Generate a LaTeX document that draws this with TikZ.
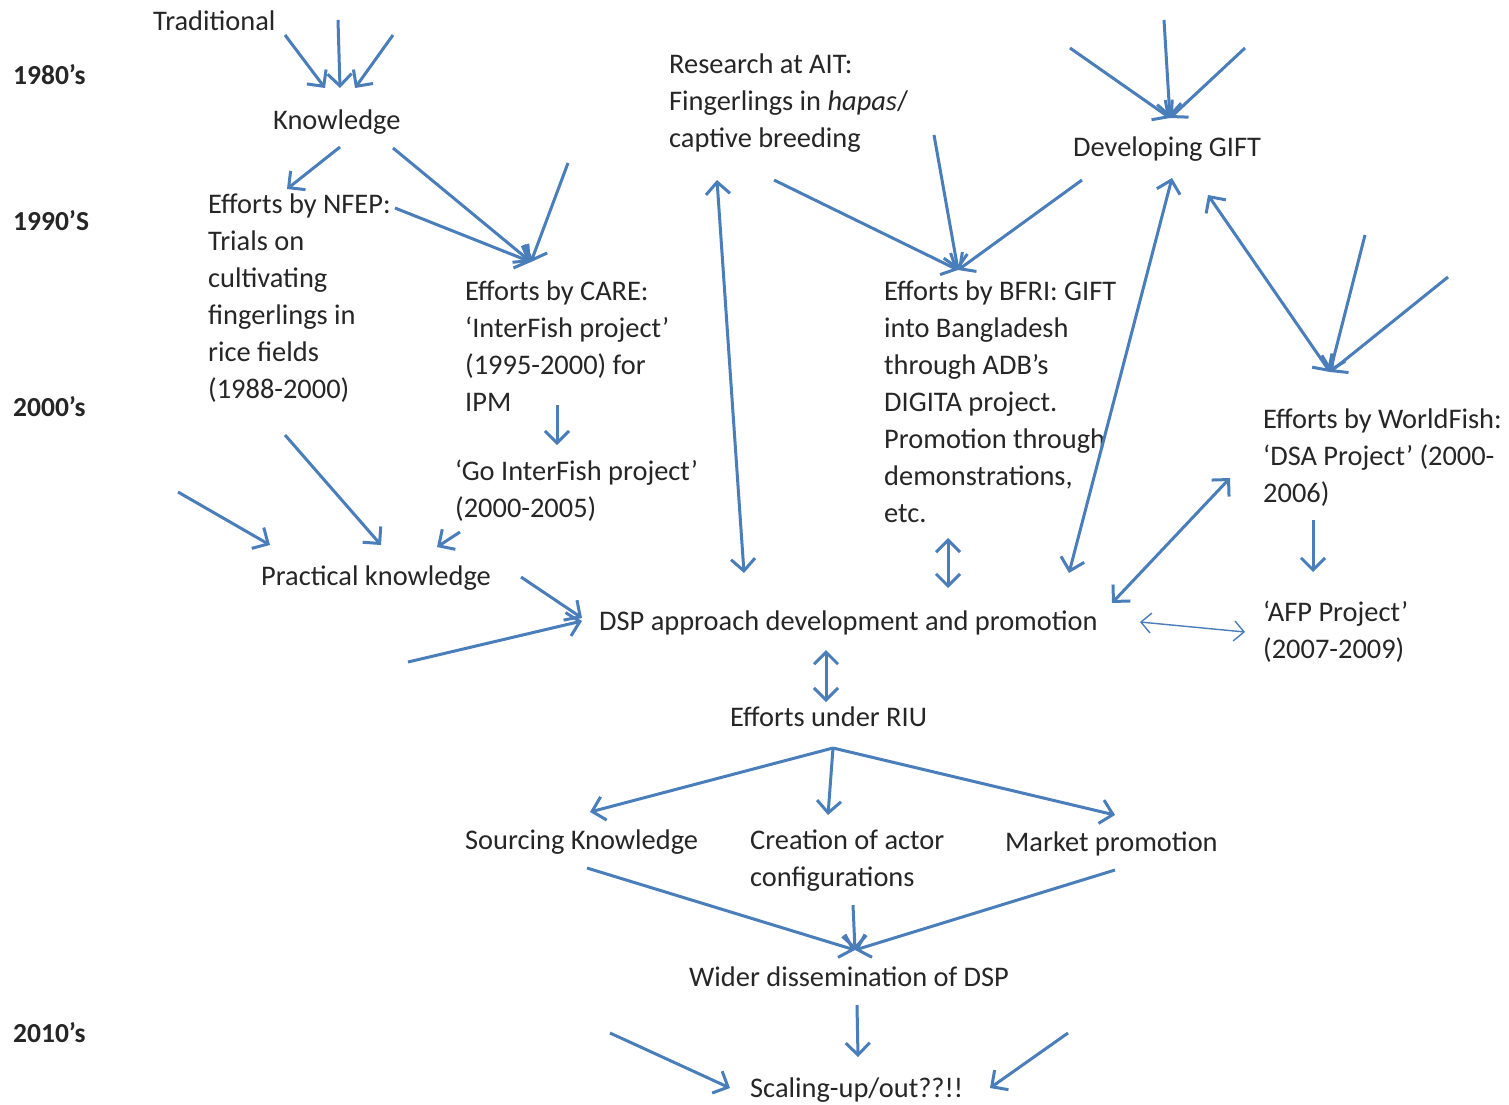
\documentclass[tikz,border=0pt]{standalone}
\usepackage{fontspec}
\setmainfont{Carlito}
\usetikzlibrary{arrows.meta}
\definecolor{arrblue}{RGB}{74,126,187}
\tikzset{
  txt/.style={anchor=base west, inner sep=0pt, font=\fontsize{28.4}{37}\selectfont, text=black!85},
  yr/.style={anchor=base west, inner sep=0pt, font=\fontsize{27.5}{37}\selectfont\bfseries, text=black!85},
  tipw/.style={Straight Barb[length=12pt,width=24pt,line width=3pt]},
  arr/.style={draw=arrblue, line width=3pt, -{Straight Barb[length=12pt,width=24pt,line width=3pt]}},
  darr/.style={draw=arrblue, line width=3pt, {Straight Barb[length=12pt,width=24pt,line width=3pt]}-{Straight Barb[length=12pt,width=24pt,line width=3pt]}},
  tharr/.style={draw=arrblue, line width=1.4pt, {Straight Barb[length=10pt,width=20pt,line width=1.4pt]}-{Straight Barb[length=10pt,width=20pt,line width=1.4pt]}},
}
\newcommand{\ml}[1]{\begin{tabular}[t]{@{}l@{}}#1\end{tabular}}
\begin{document}
\begin{tikzpicture}[x=1pt,y=-1pt]
\useasboundingbox[fill=white] (0,0) rectangle (1509,1104);
% year labels
\node[yr] (y80) at (13,84) {1980’s};
\node[yr] (y90) at (13,230) {1990’S};
\node[yr] (y00) at (13,416) {2000’s};
\node[yr] (y10) at (13,1042) {2010’s};
% text nodes
\node[txt] (trad) at (153,30) {Traditional};
\node[txt] (know) at (273,129) {Knowledge};
\node[txt] (nfep) at (208,213) {\ml{Efforts by NFEP:\\Trials on\\cultivating\\fingerlings in\\rice fields\\(1988-2000)}};
\node[txt] (care) at (465,300) {\ml{Efforts by CARE:\\‘InterFish project’\\(1995-2000) for\\IPM}};
\node[txt] (gointer) at (455,480) {\ml{‘Go InterFish project’\\(2000-2005)}};
\node[txt] (prac) at (261,585) {Practical knowledge};
\node[txt] (ait) at (669,73) {\ml{Research at AIT:\\Fingerlings in \textit{hapas}/\\captive breeding}};
\node[txt] (gift) at (1073,156) {Developing GIFT};
\node[txt] (bfri) at (884,300) {\ml{Efforts by BFRI: GIFT\\into Bangladesh\\through ADB’s\\DIGITA project.\\Promotion through\\demonstrations,\\etc.}};
\node[txt] (wf) at (1263,428) {\ml{Efforts by WorldFish:\\‘DSA Project’ (2000-\\2006)}};
\node[txt] (afp) at (1263,621) {\ml{‘AFP Project’\\(2007-2009)}};
\node[txt] (dsp) at (599,630) {DSP approach development and promotion};
\node[txt] (riu) at (730,726) {Efforts under RIU};
\node[txt] (src) at (465,849) {Sourcing Knowledge};
\node[txt] (crea) at (750,849) {\ml{Creation of actor\\configurations}};
\node[txt] (mkt) at (1005,851) {Market promotion};
\node[txt] (wider) at (689,986) {Wider dissemination of DSP};
\node[txt] (scal) at (750,1097) {Scaling-up/out??!!};
% free ends
\coordinate (c1) at (568,163);
\coordinate (c2) at (178,492);
\coordinate (c3) at (408,662);
\coordinate (c4) at (934,135);
\coordinate (c5) at (1070,48);
\coordinate (c6) at (1164,20);
\coordinate (c7) at (1245,48);
\coordinate (c8) at (1365,235);
\coordinate (c9) at (1448,277);
\coordinate (c10) at (610,1033);
\coordinate (c11) at (1068,1033);
\coordinate (c12) at (338,20);
\coordinate (c13) at (393,35);
% connectors
\draw[arr] ([shift={(132,5)}]trad.base west) -- ([shift={(52,-41)}]know.base west);
\draw[arr] (c12) -- ([shift={(67,-41)}]know.base west);
\draw[arr] (c13) -- ([shift={(82,-41)}]know.base west);
\draw[arr] ([shift={(67,18)}]know.base west) -- ([shift={(79,-24)}]nfep.base west);
\draw[arr] ([shift={(120,19)}]know.base west) -- ([shift={(66,-38)}]care.base west);
\draw[arr] ([shift={(187,-5)}]nfep.base west) -- ([shift={(66,-38)}]care.base west);
\draw[arr] (c1) -- ([shift={(66,-38)}]care.base west);
\draw[arr] ([shift={(92,105)}]care.base west) -- ([shift={(102,-35)}]gointer.base west);
\draw[arr] ([shift={(77,222)}]nfep.base west) -- ([shift={(120,-40)}]prac.base west);
\draw[arr] (c2) -- ([shift={(9,-40)}]prac.base west);
\draw[arr] ([shift={(5,52)}]gointer.base west) -- ([shift={(176,-38)}]prac.base west);
\draw[arr] ([shift={(260,-8)}]prac.base west) -- ([shift={(-17,-12)}]dsp.base west);
\draw[arr] (c3) -- ([shift={(-17,-9)}]dsp.base west);
\draw[darr] ([shift={(48,107)}]ait.base west) -- ([shift={(145,-57)}]dsp.base west);
\draw[arr] ([shift={(105,107)}]ait.base west) -- ([shift={(74,-30)}]bfri.base west);
\draw[arr] (c4) -- ([shift={(74,-30)}]bfri.base west);
\draw[arr] ([shift={(9,24)}]gift.base west) -- ([shift={(74,-30)}]bfri.base west);
\draw[arr] (c5) -- ([shift={(97,-38)}]gift.base west);
\draw[arr] (c6) -- ([shift={(97,-38)}]gift.base west);
\draw[arr] (c7) -- ([shift={(97,-38)}]gift.base west);
\draw[darr] ([shift={(99,22)}]gift.base west) -- ([shift={(470,-57)}]dsp.base west);
\draw[darr] ([shift={(135,39)}]gift.base west) -- ([shift={(67,-56)}]wf.base west);
\draw[arr] (c8) -- ([shift={(67,-56)}]wf.base west);
\draw[arr] (c9) -- ([shift={(67,-56)}]wf.base west);
\draw[darr] ([shift={(513,-27)}]dsp.base west) -- ([shift={(-33,50)}]wf.base west);
\draw[arr] ([shift={(50,92)}]wf.base west) -- ([shift={(50,-49)}]afp.base west);
\draw[tharr] ([shift={(541,-8)}]dsp.base west) -- ([shift={(-18,11)}]afp.base west);
\draw[darr] ([shift={(64,238)}]bfri.base west) -- ([shift={(349,-42)}]dsp.base west);
\draw[darr] ([shift={(227,20)}]dsp.base west) -- ([shift={(96,-24)}]riu.base west);
\draw[arr] ([shift={(103,22)}]riu.base west) -- ([shift={(125,-37)}]src.base west);
\draw[arr] ([shift={(103,22)}]riu.base west) -- ([shift={(78,-34)}]crea.base west);
\draw[arr] ([shift={(103,22)}]riu.base west) -- ([shift={(110,-36)}]mkt.base west);
\draw[arr] ([shift={(122,19)}]src.base west) -- ([shift={(166,-36)}]wider.base west);
\draw[arr] ([shift={(103,56)}]crea.base west) -- ([shift={(166,-36)}]wider.base west);
\draw[arr] ([shift={(110,19)}]mkt.base west) -- ([shift={(166,-36)}]wider.base west);
\draw[arr] ([shift={(168,19)}]wider.base west) -- ([shift={(108,-40)}]scal.base west);
\draw[arr] (c10) -- ([shift={(-20,-9)}]scal.base west);
\draw[arr] (c11) -- ([shift={(240,-9)}]scal.base west);
\end{tikzpicture}
\end{document}
